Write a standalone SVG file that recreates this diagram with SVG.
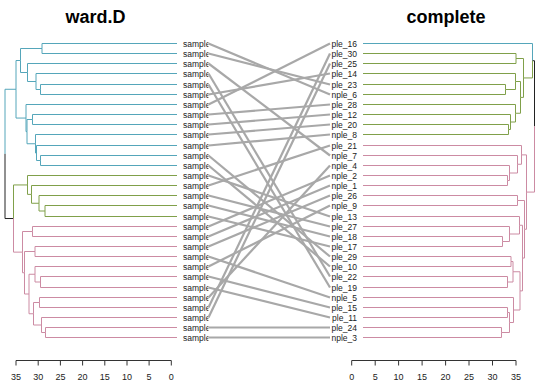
<svg xmlns="http://www.w3.org/2000/svg" width="540" height="386" viewBox="0 0 540 386">
<style>
.t{fill:none;stroke-width:1}
.teal{stroke:#55a6ba}.grn{stroke:#80a04a}.pnk{stroke:#cc8ba3}.blk{stroke:#222}
.lab{font-family:"Liberation Sans",Arial,sans-serif;font-size:8.5px;fill:#222}
.ttl{font-family:"Liberation Sans",Arial,sans-serif;font-size:18px;font-weight:bold;fill:#000}
.ax{font-family:"Liberation Sans",Arial,sans-serif;font-size:9px;fill:#222;text-anchor:middle}
.axl{fill:none;stroke:#333;stroke-width:1}
.con line{stroke:#a8a8a8;stroke-width:2.2}
</style>
<defs><clipPath id="lc"><rect x="0" y="0" width="208.5" height="386"/></clipPath></defs>
<rect width="540" height="386" fill="#fff"/>
<text class="ttl" x="95.5" y="23" text-anchor="middle">ward.D</text>
<text class="ttl" x="446" y="23" text-anchor="middle">complete</text>
<g id="left-tree">
<path class="t teal" d="M5 153.9V89.28H16M16 89.28V60.5H20.5M16 89.28V118.06H26M20.5 60.5V48.5H42M20.5 60.5V72.5H27.5M42 48.5V43.5H177M42 48.5V53.5H177M27.5 72.5V63.5H177M27.5 72.5V81.5H36M36 81.5V73.5H177M36 81.5V89.5H40.5M40.5 89.5V84.5H177M40.5 89.5V94.5H177M26 118.06V104.5H177M26 118.06V131.63H27M27 131.63V119.5H32.5M27 131.63V143.75H35.5M32.5 119.5V114.5H177M32.5 119.5V124.5H177M35.5 143.75V134.5H177M35.5 143.75V153H36.5M36.5 153V145.5H177M36.5 153V160.5H40.5M40.5 160.5V155.5H177M40.5 160.5V165.5H177"/>
<path class="t blk" d="M5 153.9V218.53H13.5"/>
<path class="t grn" d="M13.5 218.53V184.94H27.5M27.5 184.94V175.5H177M27.5 184.94V194.38H31.5M31.5 194.38V185.5H177M31.5 194.38V203.25H39M39 203.25V195.5H177M39 203.25V211H45M45 211V205.5H177M45 211V216.5H177"/>
<path class="t pnk" d="M13.5 218.53V252.13H22.5M22.5 252.13V231.5H32.5M22.5 252.13V272.75H24.5M32.5 231.5V226.5H177M32.5 231.5V236.5H177M24.5 272.75V251.5H35M24.5 272.75V294H29M35 251.5V246.5H177M35 251.5V256.5H177M29 294V274.25H35M29 294V313.75H33.5M35 274.25V266.5H177M35 274.25V282H40.5M40.5 282V276.5H177M40.5 282V287.5H177M33.5 313.75V302.5H39.5M33.5 313.75V325H41.5M39.5 302.5V297.5H177M39.5 302.5V307.5H177M41.5 325V317.5H177M41.5 325V332.5H45.5M45.5 332.5V327.5H177M45.5 332.5V337.5H177"/>
</g>
<g id="right-tree">
<path class="t teal" d="M532.5 60.72V43.5H363"/>
<path class="t blk" d="M534.5 126.4V60.72H532.5"/>
<path class="t grn" d="M532.5 60.72V77.94H523.5M523.5 77.94V58.5H516M523.5 77.94V97.38H520.5M516 58.5V53.5H363M516 58.5V63.5H363M520.5 97.38V81.5H515.5M520.5 97.38V113.25H515.5M515.5 81.5V73.5H363M515.5 81.5V89.5H505.5M505.5 89.5V84.5H363M505.5 89.5V94.5H363M515.5 113.25V104.5H363M515.5 113.25V122H510.5M510.5 122V114.5H363M510.5 122V129.5H508.5M508.5 129.5V124.5H363M508.5 129.5V134.5H363"/>
<path class="t pnk" d="M534.5 126.4V192.08H526.5M526.5 192.08V154.88H521.5M526.5 192.08V229.28H524.5M521.5 154.88V145.5H363M521.5 154.88V164.25H517.5M517.5 164.25V155.5H363M517.5 164.25V173H509.5M509.5 173V165.5H363M509.5 173V180.5H507.5M507.5 180.5V175.5H363M507.5 180.5V185.5H363M524.5 229.28V200.5H517.5M524.5 229.28V258.06H522.5M517.5 200.5V195.5H363M517.5 200.5V205.5H363M522.5 258.06V225.25H519.5M522.5 258.06V290.88H520M519.5 225.25V216.5H363M519.5 225.25V234H509.5M509.5 234V226.5H363M509.5 234V241.5H502.5M502.5 241.5V236.5H363M502.5 241.5V246.5H363M520 290.88V271.75H513M520 290.88V310H513.5M513 271.75V261.5H511M513 271.75V282H507.5M511 261.5V256.5H363M511 261.5V266.5H363M507.5 282V276.5H363M507.5 282V287.5H363M513.5 310V297.5H363M513.5 310V322.5H509.5M509.5 322.5V312.5H507.5M509.5 322.5V332.5H501.5M507.5 312.5V307.5H363M507.5 312.5V317.5H363M501.5 332.5V327.5H363M501.5 332.5V337.5H363"/>
</g>
<g id="left-labels" class="lab" clip-path="url(#lc)">
<g id="l0"><text x="183" y="46.5">sample</text></g>
<g id="l1"><text x="183" y="56.5">sample</text></g>
<g id="l2"><text x="183" y="66.5">sample</text></g>
<g id="l3"><text x="183" y="76.5">sample</text></g>
<g id="l4"><text x="183" y="87.5">sample</text></g>
<g id="l5"><text x="183" y="97.5">sample</text></g>
<g id="l6"><text x="183" y="107.5">sample</text></g>
<g id="l7"><text x="183" y="117.5">sample</text></g>
<g id="l8"><text x="183" y="127.5">sample</text></g>
<g id="l9"><text x="183" y="137.5">sample</text></g>
<g id="l10"><text x="183" y="148.5">sample</text></g>
<g id="l11"><text x="183" y="158.5">sample</text></g>
<g id="l12"><text x="183" y="168.5">sample</text></g>
<g id="l13"><text x="183" y="178.5">sample</text></g>
<g id="l14"><text x="183" y="188.5">sample</text></g>
<g id="l15"><text x="183" y="198.5">sample</text></g>
<g id="l16"><text x="183" y="208.5">sample</text></g>
<g id="l17"><text x="183" y="219.5">sample</text></g>
<g id="l18"><text x="183" y="229.5">sample</text></g>
<g id="l19"><text x="183" y="239.5">sample</text></g>
<g id="l20"><text x="183" y="249.5">sample</text></g>
<g id="l21"><text x="183" y="259.5">sample</text></g>
<g id="l22"><text x="183" y="269.5">sample</text></g>
<g id="l23"><text x="183" y="279.5">sample</text></g>
<g id="l24"><text x="183" y="290.5">sample</text></g>
<g id="l25"><text x="183" y="300.5">sample</text></g>
<g id="l26"><text x="183" y="310.5">sample</text></g>
<g id="l27"><text x="183" y="320.5">sample</text></g>
<g id="l28"><text x="183" y="330.5">sample</text></g>
<g id="l29"><text x="183" y="340.5">sample</text></g>
</g>
<g id="right-labels" class="lab" text-anchor="end">
<g id="r0"><text x="357" y="46.5">ple_16</text></g>
<g id="r1"><text x="357" y="56.5">ple_30</text></g>
<g id="r2"><text x="357" y="66.5">ple_25</text></g>
<g id="r3"><text x="357" y="76.5">ple_14</text></g>
<g id="r4"><text x="357" y="87.5">ple_23</text></g>
<g id="r5"><text x="357" y="97.5">nple_6</text></g>
<g id="r6"><text x="357" y="107.5">ple_28</text></g>
<g id="r7"><text x="357" y="117.5">ple_12</text></g>
<g id="r8"><text x="357" y="127.5">ple_20</text></g>
<g id="r9"><text x="357" y="137.5">nple_8</text></g>
<g id="r10"><text x="357" y="148.5">ple_21</text></g>
<g id="r11"><text x="357" y="158.5">nple_7</text></g>
<g id="r12"><text x="357" y="168.5">nple_4</text></g>
<g id="r13"><text x="357" y="178.5">nple_2</text></g>
<g id="r14"><text x="357" y="188.5">nple_1</text></g>
<g id="r15"><text x="357" y="198.5">ple_26</text></g>
<g id="r16"><text x="357" y="208.5">nple_9</text></g>
<g id="r17"><text x="357" y="219.5">ple_13</text></g>
<g id="r18"><text x="357" y="229.5">ple_27</text></g>
<g id="r19"><text x="357" y="239.5">ple_18</text></g>
<g id="r20"><text x="357" y="249.5">ple_17</text></g>
<g id="r21"><text x="357" y="259.5">ple_29</text></g>
<g id="r22"><text x="357" y="269.5">ple_10</text></g>
<g id="r23"><text x="357" y="279.5">ple_22</text></g>
<g id="r24"><text x="357" y="290.5">ple_19</text></g>
<g id="r25"><text x="357" y="300.5">nple_5</text></g>
<g id="r26"><text x="357" y="310.5">ple_15</text></g>
<g id="r27"><text x="357" y="320.5">ple_11</text></g>
<g id="r28"><text x="357" y="330.5">ple_24</text></g>
<g id="r29"><text x="357" y="340.5">nple_3</text></g>
</g>
<g id="connectors" class="con">
<line x1="208.5" y1="43.5" x2="330" y2="94.5"/>
<line x1="208.5" y1="53.5" x2="330" y2="84.5"/>
<line x1="208.5" y1="63.5" x2="330" y2="155.5"/>
<line x1="208.5" y1="73.5" x2="330" y2="276.5"/>
<line x1="208.5" y1="84.5" x2="330" y2="287.5"/>
<line x1="208.5" y1="94.5" x2="330" y2="73.5"/>
<line x1="208.5" y1="104.5" x2="330" y2="43.5"/>
<line x1="208.5" y1="114.5" x2="330" y2="104.5"/>
<line x1="208.5" y1="124.5" x2="330" y2="114.5"/>
<line x1="208.5" y1="134.5" x2="330" y2="124.5"/>
<line x1="208.5" y1="145.5" x2="330" y2="134.5"/>
<line x1="208.5" y1="155.5" x2="330" y2="256.5"/>
<line x1="208.5" y1="165.5" x2="330" y2="266.5"/>
<line x1="208.5" y1="175.5" x2="330" y2="216.5"/>
<line x1="208.5" y1="185.5" x2="330" y2="145.5"/>
<line x1="208.5" y1="195.5" x2="330" y2="226.5"/>
<line x1="208.5" y1="205.5" x2="330" y2="236.5"/>
<line x1="208.5" y1="216.5" x2="330" y2="246.5"/>
<line x1="208.5" y1="226.5" x2="330" y2="175.5"/>
<line x1="208.5" y1="236.5" x2="330" y2="185.5"/>
<line x1="208.5" y1="246.5" x2="330" y2="195.5"/>
<line x1="208.5" y1="256.5" x2="330" y2="297.5"/>
<line x1="208.5" y1="266.5" x2="330" y2="205.5"/>
<line x1="208.5" y1="276.5" x2="330" y2="307.5"/>
<line x1="208.5" y1="287.5" x2="330" y2="317.5"/>
<line x1="208.5" y1="297.5" x2="330" y2="165.5"/>
<line x1="208.5" y1="307.5" x2="330" y2="53.5"/>
<line x1="208.5" y1="317.5" x2="330" y2="63.5"/>
<line x1="208.5" y1="327.5" x2="330" y2="327.5"/>
<line x1="208.5" y1="337.5" x2="330" y2="337.5"/>
</g>
<g id="left-axis">
<path class="axl" d="M16 360.5H171.3M16 360.5V365.5M38.2 360.5V365.5M60.4 360.5V365.5M82.6 360.5V365.5M104.8 360.5V365.5M127 360.5V365.5M149.1 360.5V365.5M171.3 360.5V365.5"/>
<text class="ax" x="16" y="380">35</text><text class="ax" x="38.2" y="380">30</text><text class="ax" x="60.4" y="380">25</text><text class="ax" x="82.6" y="380">20</text><text class="ax" x="104.8" y="380">15</text><text class="ax" x="127" y="380">10</text><text class="ax" x="149.1" y="380">5</text><text class="ax" x="171.3" y="380">0</text>
</g>
<g id="right-axis">
<path class="axl" d="M351.7 360.5H516M351.7 360.5V365.5M375.2 360.5V365.5M398.6 360.5V365.5M422.1 360.5V365.5M445.6 360.5V365.5M469 360.5V365.5M492.5 360.5V365.5M516 360.5V365.5"/>
<text class="ax" x="351.7" y="380">0</text><text class="ax" x="375.2" y="380">5</text><text class="ax" x="398.6" y="380">10</text><text class="ax" x="422.1" y="380">15</text><text class="ax" x="445.6" y="380">20</text><text class="ax" x="469" y="380">25</text><text class="ax" x="492.5" y="380">30</text><text class="ax" x="516" y="380">35</text>
</g>
</svg>
